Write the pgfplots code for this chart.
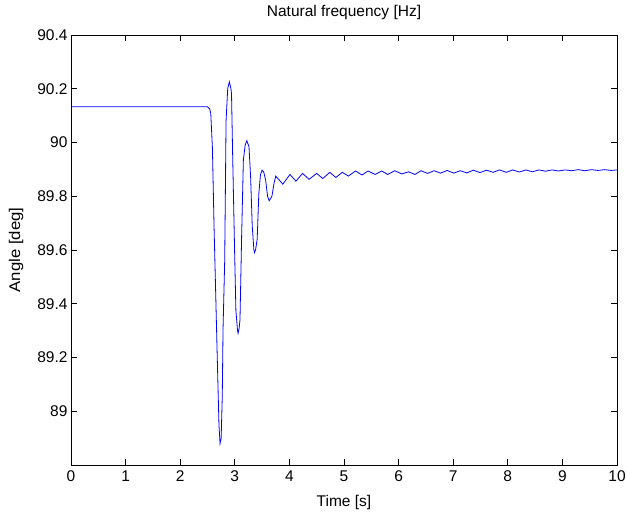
\documentclass[border=0pt]{standalone}
\usepackage{fontspec}
\setmainfont{Liberation Sans}
\usepackage{pgfplots}
\pgfplotsset{compat=1.18}
\newcommand\ff{\fontsize{15.5bp}{18bp}\selectfont}
\begin{document}
\begin{tikzpicture}
\useasboundingbox (-71bp,-47bp) rectangle (556bp,465bp);
\begin{axis}[
  at={(0,0)}, anchor=south west,
  scale only axis, width=546bp, height=430bp,
  xmin=0, xmax=10, ymin=88.8, ymax=90.4,
  xtick={0,1,2,3,4,5,6,7,8,9,10},
  ytick={89,89.2,89.4,89.6,89.8,90,90.2,90.4},
  tick align=inside, tick pos=both,
  major tick length=6bp,
  axis line style={line width=0.8bp},
  every tick/.style={black, line width=0.8bp},
  /pgf/number format/assume math mode=true,
  tick label style={font=\ff},
  xticklabel style={yshift=-2bp},
  title={Natural frequency [Hz]},
  title style={font=\ff, at={(axis description cs:0.5,1)}, anchor=center, yshift=17bp},
  xlabel={Time [s]},
  xlabel style={font=\ff, at={(axis description cs:0.5,0)}, anchor=center, yshift=-37bp},
  ylabel={\scalebox{1.08}[1]{Angle [deg]}},
  ylabel style={font=\ff, at={(axis description cs:-0.1007,0.5)}, anchor=center},
]
\addplot[color={rgb,255:red,0;green,0;blue,255}, line width=0.8bp] coordinates {
(0,90.133) (2.50,90.133) (2.54,90.125) (2.56,90.108) (2.59,89.98) (2.62,89.686)
(2.65,89.44) (2.68,89.19) (2.71,88.95) (2.73,88.88) (2.75,88.90) (2.77,89.05)
(2.785,89.31) (2.815,89.56) (2.84,90.08) (2.87,90.20) (2.90,90.226) (2.93,90.20)
(2.94,90.18) (2.96,89.96) (3.0,89.56) (3.02,89.376) (3.05,89.30) (3.06,89.29)
(3.08,89.31) (3.095,89.34) (3.126,89.66) (3.157,89.935) (3.19,89.99) (3.22,90.007)
(3.26,89.984) (3.29,89.87) (3.32,89.686) (3.35,89.60) (3.36,89.59) (3.38,89.60)
(3.41,89.64) (3.44,89.81) (3.47,89.88) (3.50,89.897) (3.53,89.89) (3.565,89.86)
(3.60,89.80) (3.63,89.783) (3.68,89.80) (3.72,89.85) (3.75,89.875) (3.88,89.845)
(4.01,89.881) (4.12,89.856) (4.24,89.885) (4.36,89.863) (4.50,89.885) (4.61,89.866)
(4.74,89.889) (4.85,89.870) (4.97,89.889) (5.08,89.875) (5.21,89.894) (5.33,89.879)
(5.44,89.894) (5.57,89.881) (5.69,89.894) (5.80,89.881) (5.93,89.895) (6.06,89.883)
(6.18,89.891) (6.30,89.881) (6.41,89.895) (6.53,89.885) (6.65,89.895) (6.77,89.886)
(6.89,89.896) (7.01,89.886) (7.13,89.895) (7.25,89.887) (7.37,89.897) (7.49,89.888)
(7.61,89.897) (7.73,89.889) (7.85,89.898) (7.97,89.889) (8.09,89.898) (8.21,89.890)
(8.33,89.898) (8.45,89.891) (8.57,89.898) (8.69,89.893) (8.81,89.898) (8.93,89.894)
(9.05,89.898) (9.17,89.895) (9.29,89.899) (9.41,89.895) (9.53,89.899) (9.65,89.896)
(9.77,89.899) (9.89,89.896) (10,89.898)
};
\end{axis}
\end{tikzpicture}
\end{document}
